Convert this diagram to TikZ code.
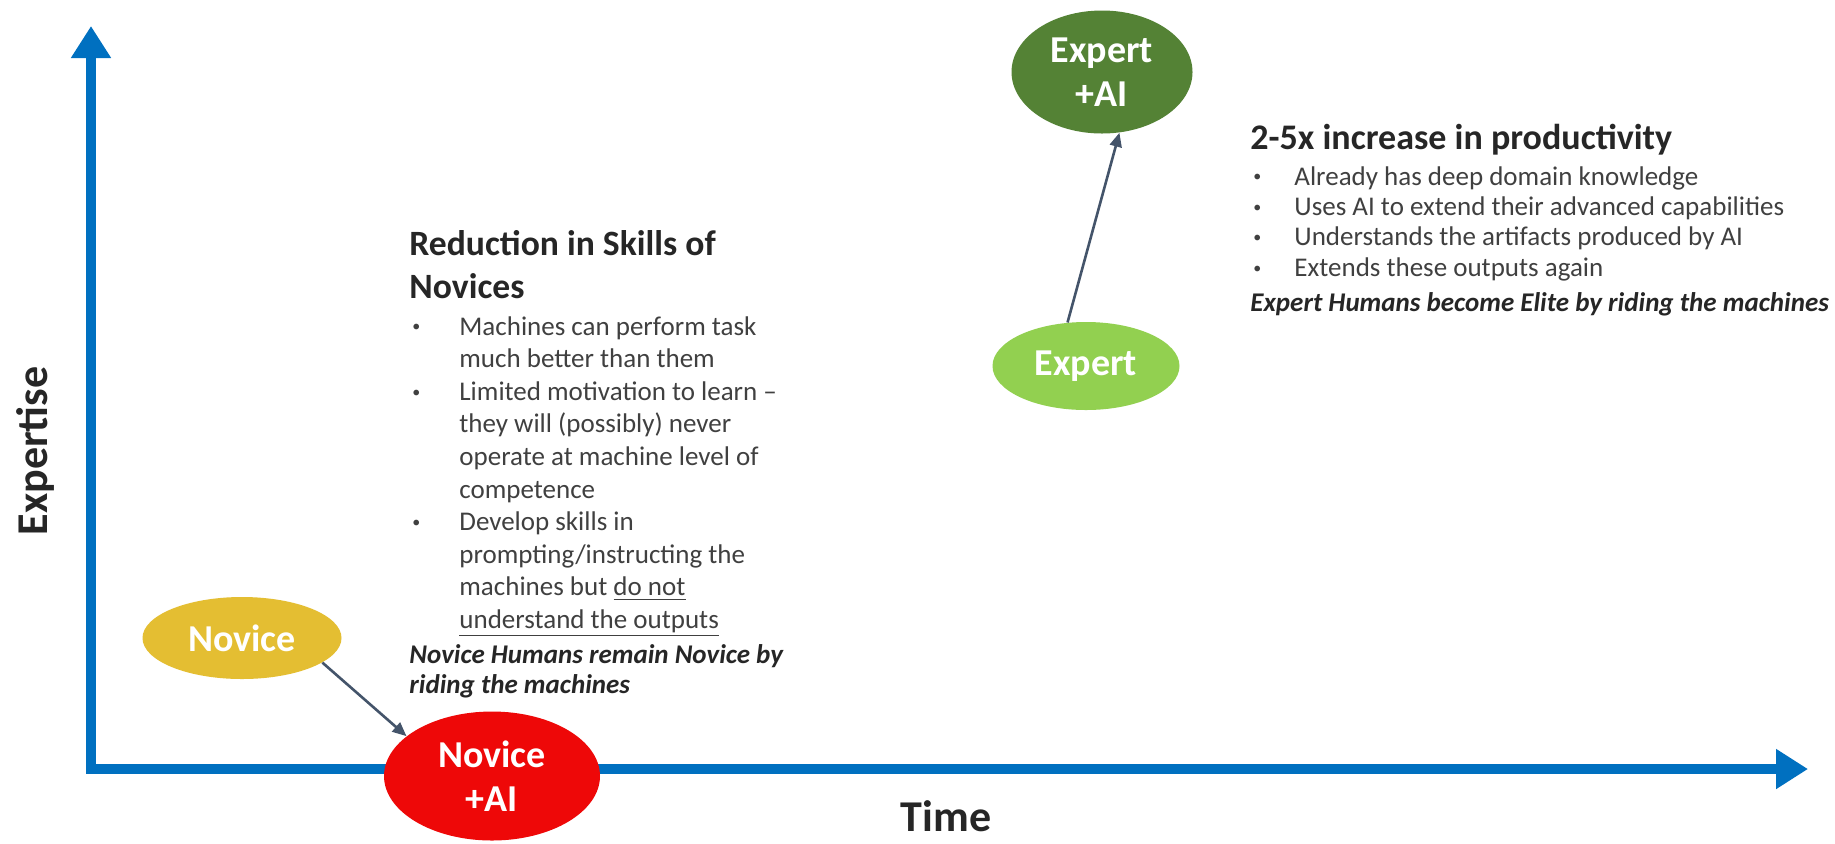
\documentclass[tikz,border=0pt]{standalone}
\usepackage{fontspec}
\setmainfont{Carlito}
\usetikzlibrary{shapes.geometric,arrows.meta}

\definecolor{axisblue}{RGB}{0,112,192}
\definecolor{novgold}{RGB}{228,190,50}
\definecolor{novred}{RGB}{238,8,8}
\definecolor{explight}{RGB}{146,208,80}
\definecolor{expdark}{RGB}{84,130,53}
\definecolor{linkgray}{RGB}{68,84,106}
\definecolor{txtgray}{RGB}{64,64,64}
\definecolor{hdgray}{RGB}{38,38,38}

\newlength\bulw
\newcommand{\bul}{\makebox[\bulw][l]{\hspace{1.5pt}\raisebox{0.25ex}{\fontsize{8}{8}\selectfont\textbullet}}}
\newcommand{\ind}{\hspace*{\bulw}}

\begin{document}
\begin{tikzpicture}[x=0.5pt,y=-0.5pt,
axis/.style={%
draw=axisblue,
line width=4.7pt,
line join=miter,
{Triangle[width=19pt,length=16pt]}-{Triangle[width=19pt,length=16pt]}
},
axlbl/.style={%
text=hdgray,
font=\fontsize{22}{26}\selectfont\bfseries
},
blob/.style={%
ellipse,
inner sep=0pt,
text=white,
align=center,
font=\fontsize{19}{22}\selectfont\bfseries
},
link/.style={%
draw=linkgray,
line width=1.3pt,
-{Triangle[width=6pt,length=7pt]}
},
hd/.style={%
anchor=north west,
inner sep=0pt,
align=left,
text=hdgray,
font=\fontsize{17.8}{21.5}\selectfont\bfseries
},
lst/.style={%
anchor=north west,
inner sep=0pt,
align=left,
text=txtgray,
font=\fontsize{13.5}{16.3}\selectfont\setlength\bulw{25pt}
},
note/.style={%
anchor=north west,
inner sep=0pt,
align=left,
text=hdgray,
font=\fontsize{13.5}{15}\selectfont\bfseries\itshape
},
]
\path[use as bounding box,fill=white](0,0)rectangle(1835,843);
%% axes
\coordinate(ytop)at(91,26);
\coordinate(orig)at(91,769);
\coordinate(xend)at(1808,769);
\draw[axis](ytop)--(orig)--(xend);
\node[axlbl,rotate=90]at(35,451)(ylab){Expertise};
\node[axlbl]at(946,816)(xlab){Time};
%% stages
\node[blob,fill=novgold,minimum width=99.5pt,minimum height=41pt]at(242,638)(nov){Novice};
\node[blob,fill=novred,minimum width=108pt,minimum height=64.5pt]at(492,776)(novai){Novice\\+AI};
\node[blob,fill=explight,minimum width=93.5pt,minimum height=44pt]at(1086,366)(exp){Expert};
\node[blob,fill=expdark,minimum width=90.5pt,minimum height=61.5pt]at(1102,72)(expai){Expert\\+AI};
\draw[link](nov.-17)--(novai.155);
\draw[link](exp.113)--(expai.-74);
%% novices
\node[hd]at(409,230)(hnov){Reduction in Skills of\\Novices};
\node[lst]at(409,316)(lnov){\bul Machines can perform task\\
\ind much better than them\\
\bul Limited motivation to learn --\\
\ind they will (possibly) never\\
\ind operate at machine level of\\
\ind competence\\
\bul Develop skills in\\
\ind prompting/instructing the\\
\ind machines but \underline{do not}\\
\ind \underline{understand the outputs}};
\node[note]at(409,644)(nnov){Novice Humans remain Novice by\\riding the machines};
%% experts
\node[hd,font=\fontsize{18}{22}\selectfont\bfseries]at(1250,124)(hexp){2-5x increase in productivity};
\node[lst,font=\fontsize{13.5}{15.2}\selectfont\setlength\bulw{22pt}]at(1250,166)(lexp){\bul Already has deep domain knowledge\\
\bul Uses AI to extend their advanced capabilities\\
\bul Understands the artifacts produced by AI\\
\bul Extends these outputs again};
\node[note]at(1250,292)(nexp){Expert Humans become Elite by riding the machines};
\end{tikzpicture}
\end{document}
